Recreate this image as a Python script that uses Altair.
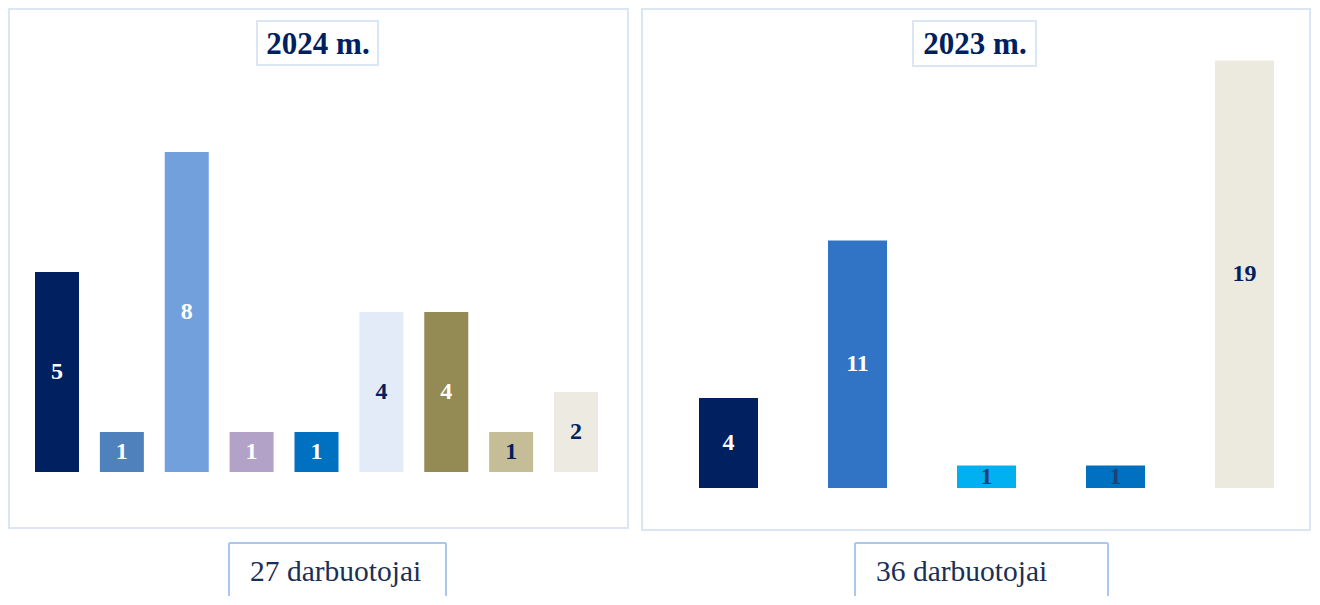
import altair as alt
import pandas as pd

# ---------------- data ----------------
cats_2024 = ["k1", "k2", "k3", "k4", "k5", "k6", "k7", "k8", "k9"]
vals_2024 = [5, 1, 8, 1, 1, 4, 4, 1, 2]
colors_2024 = ["#002060", "#4F81BD", "#71A0DC", "#B3A2C7", "#0070C0",
               "#E3EAF8", "#948A54", "#C4BD97", "#EDEBE1"]
label_colors_2024 = ["#FFFFFF", "#FFFFFF", "#FFFFFF", "#FFFFFF", "#FFFFFF",
                     "#002060", "#FFFFFF", "#002060", "#002060"]

cats_2023 = ["k1", "k2", "k3", "k4", "k5"]
vals_2023 = [4, 11, 1, 1, 19]
colors_2023 = ["#002060", "#3173C5", "#00B0F0", "#0070C0", "#ECE9DE"]
label_colors_2023 = ["#FFFFFF", "#FFFFFF", "#1F4175", "#1F4175", "#002060"]

title_2024 = "2024 m."
title_2023 = "2023 m."
total_2024 = "27 darbuotojai"
total_2023 = "36 darbuotojai"

FONT = "Liberation Serif"
PANEL_BORDER = "#DAE6F4"
BOX_BORDER = "#A9C8EC"
NAVY = "#002060"

one = pd.DataFrame({"a": [0]})


def rect(x, x2, y, y2, stroke, fill="#FFFFFF", sw=2):
    return alt.Chart(one).mark_rect(fill=fill, stroke=stroke, strokeWidth=sw).encode(
        x=alt.value(x), x2=alt.value(x2), y=alt.value(y), y2=alt.value(y2))


def vrule(x, y, y2, stroke, sw=2):
    return alt.Chart(one).mark_rule(stroke=stroke, strokeWidth=sw).encode(
        x=alt.value(x), y=alt.value(y), y2=alt.value(y2))


def hrule(x, x2, y, stroke, sw=2):
    return alt.Chart(one).mark_rule(stroke=stroke, strokeWidth=sw).encode(
        x=alt.value(x), x2=alt.value(x2), y=alt.value(y))


def label(txt, x, y, size, weight, align, color):
    return alt.Chart(one).mark_text(text=txt, font=FONT, fontSize=size, fontWeight=weight,
                                    align=align, baseline="alphabetic", color=color).encode(
        x=alt.value(x), y=alt.value(y))


def panel(cats, vals, colors, lcolors, title, total, width, height,
          xrange, pinner, ymax, yrange, border, tbox, ttext_x, fbox, ftext_x):
    df = pd.DataFrame({"cat": cats, "value": vals})
    xs = alt.X("cat:N", sort=cats, axis=None,
               scale=alt.Scale(domain=cats, range=xrange, paddingInner=pinner, paddingOuter=0))
    ysc = alt.Scale(domain=[0, ymax], range=yrange)
    bars = alt.Chart(df).mark_bar().encode(
        x=xs,
        y=alt.Y("value:Q", axis=None, scale=ysc),
        color=alt.Color("cat:N", scale=alt.Scale(domain=cats, range=colors), legend=None),
    )
    texts = alt.Chart(df).transform_calculate(mid="datum.value / 2").mark_text(
        font=FONT, fontSize=24, fontWeight="bold", baseline="middle", dy=0
    ).encode(
        x=xs,
        y=alt.Y("mid:Q", axis=None, scale=ysc),
        text="value:Q",
        color=alt.Color("cat:N", scale=alt.Scale(domain=cats, range=lcolors), legend=None),
    )
    bx0, bx1, by0, by1 = border
    tx0, tx1, ty0, ty1 = tbox
    fx0, fx1, fy0, fbottom = fbox
    layers = [
        rect(bx0, bx1, by0, by1, PANEL_BORDER),
        bars,
        texts,
        rect(tx0, tx1, ty0, ty1, PANEL_BORDER),
        label(title, ttext_x, 46, 31, "bold", "center", NAVY),
        vrule(fx0, fy0, fbottom, BOX_BORDER),
        vrule(fx1, fy0, fbottom, BOX_BORDER),
        hrule(fx0, fx1, fy0, BOX_BORDER),
        label(total, ftext_x, 573, 29.5, "normal", "left", "#1B2F55"),
    ]
    return alt.layer(*layers).resolve_scale(color="independent").properties(
        width=width, height=height)


H = 588
left = panel(cats_2024, vals_2024, colors_2024, label_colors_2024, title_2024, total_2024,
             633, H, [27, 590], 0.322, 10, [464, 64],
             (1, 620, 1, 520), (249, 370, 13, 57), 310, (221, 438, 535, H), 242)
right = panel(cats_2023, vals_2023, colors_2023, label_colors_2023, title_2023, total_2023,
              671, H, [58, 633], 0.5426, 20, [480, 30],
              (1, 669, 1, 522), (272, 395, 13, 58), 334, (214, 467, 535, H), 235)

chart = alt.hconcat(left, right, spacing=0).properties(padding=0).configure_view(
    stroke=None).configure_concat(spacing=0)

chart.save("out.html", embed_options={"renderer": "svg", "actions": False})
